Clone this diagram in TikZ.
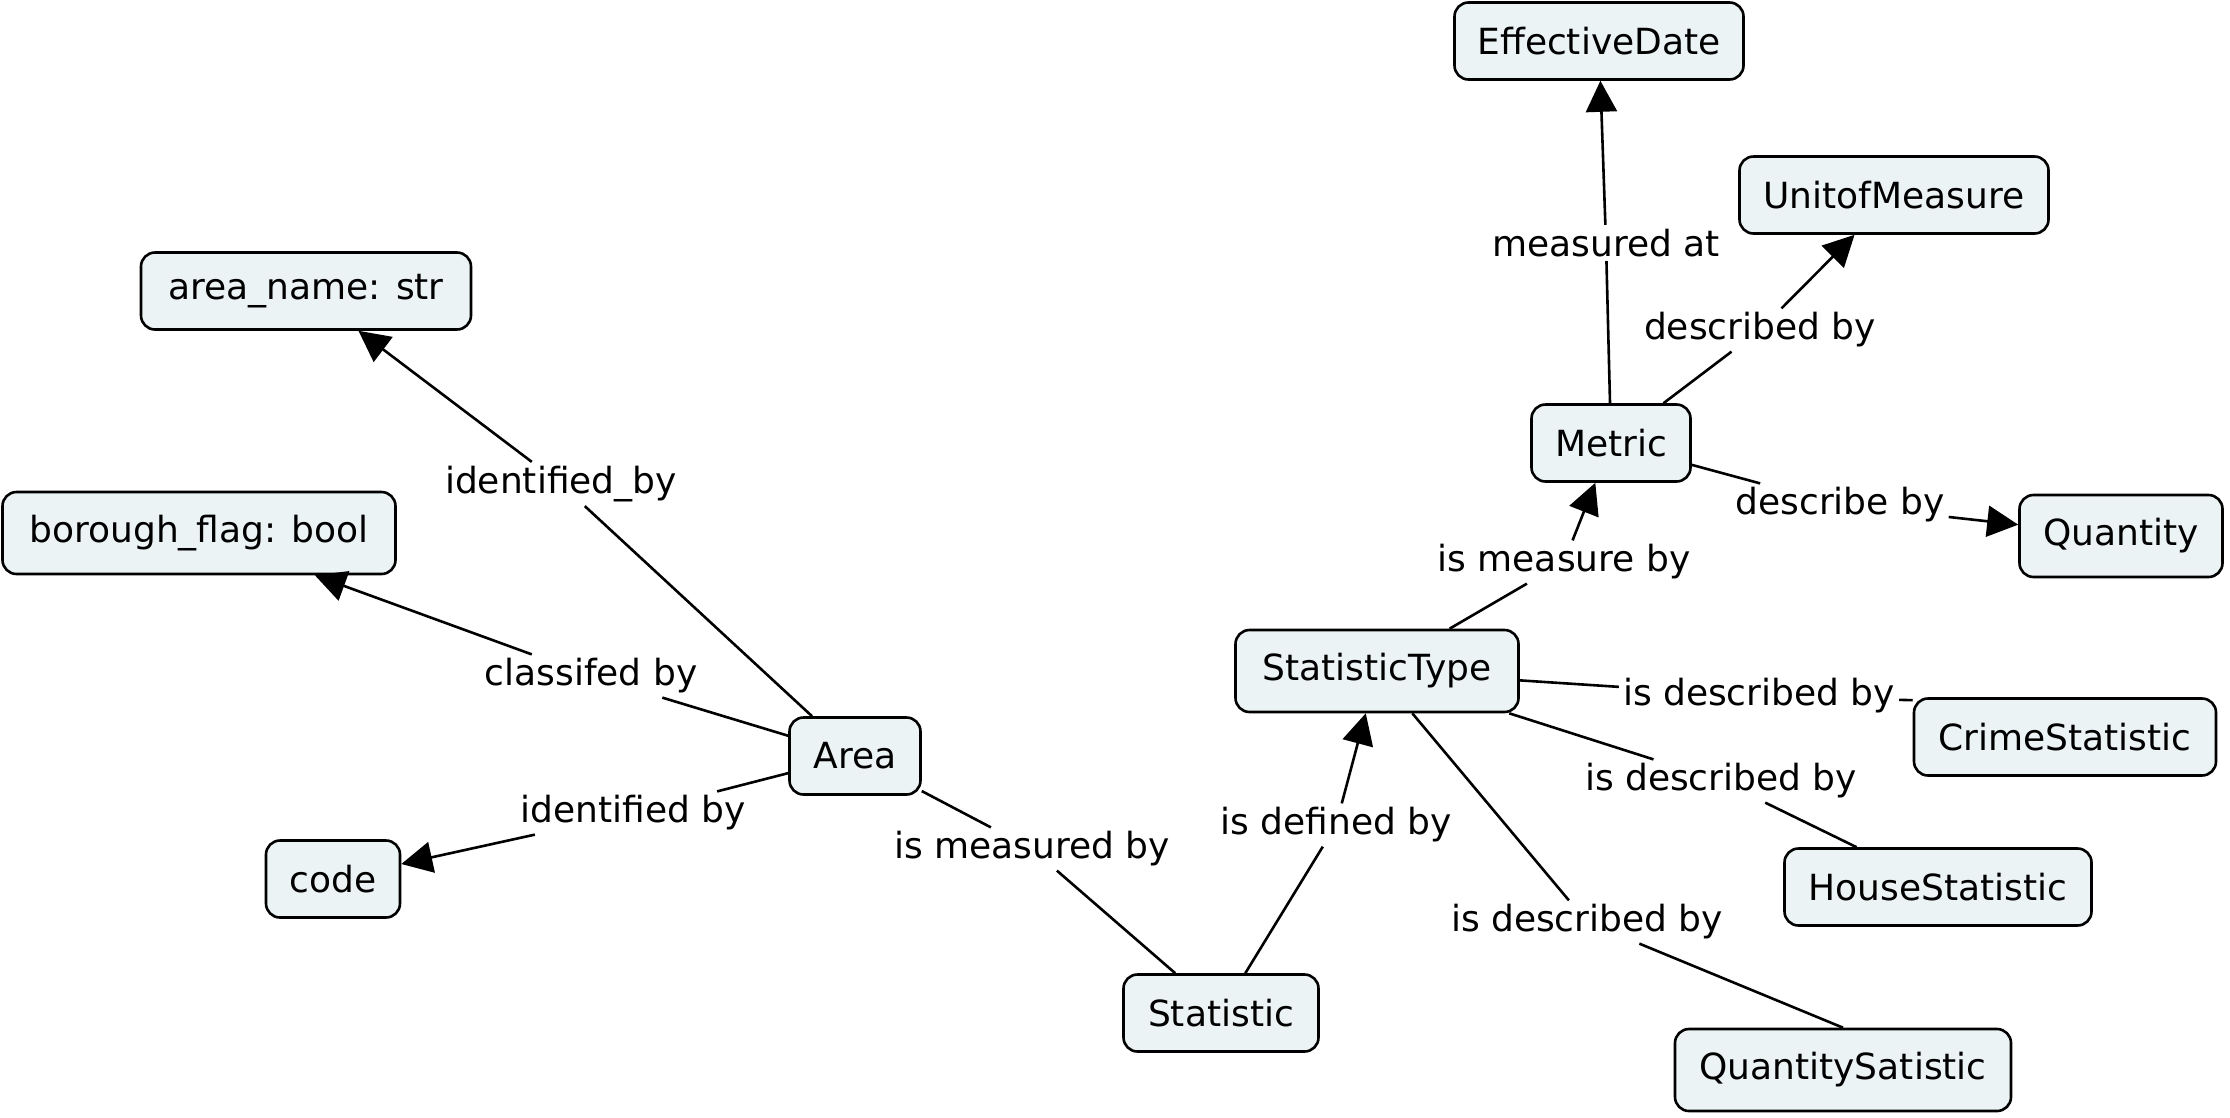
\documentclass[tikz,border=0pt]{standalone}
\usepackage{fontspec}
\setmainfont{DejaVu Sans}
\usetikzlibrary{arrows.meta}
\definecolor{cfill}{RGB}{236,243,245}
\begin{document}
\begin{tikzpicture}[x=1pt,y=-1pt,
  concept/.style={draw=black, line width=2.6pt, fill=cfill, rounded corners=14pt,
    minimum height=77pt, inner xsep=6pt, font=\fontsize{36}{42}\selectfont},
  tall/.style={minimum height=82pt},
  lbl/.style={inner xsep=4pt, inner ysep=4pt, font=\fontsize{36}{42}\selectfont},
  link/.style={line width=2.6pt},
  arr/.style={line width=2.6pt, -{Triangle[length=31pt,width=31pt]}}
]
\useasboundingbox[fill=white] (0,0) rectangle (2230,1117);

% concepts
\node[concept, minimum width=289pt] (eff) at (1599,41) {EffectiveDate};
\node[concept, minimum width=309pt] (unit) at (1894,195) {UnitofMeasure};
\node[concept, minimum width=330pt] (aname) at (306,291) {area\_name: str};
\node[concept, minimum width=159pt] (metric) at (1611,443) {Metric};
\node[concept, tall, minimum width=393pt] (borough) at (199,533) {borough\_flag: bool};
\node[concept, tall, minimum width=203pt] (quantity) at (2121,536) {Quantity};
\node[concept, tall, minimum width=283pt] (stype) at (1377,671) {StatisticType};
\node[concept, minimum width=302pt] (crime) at (2065,737) {CrimeStatistic};
\node[concept, minimum width=131pt] (area) at (855,756) {Area};
\node[concept, minimum width=134pt] (code) at (333,879) {code};
\node[concept, minimum width=307pt] (house) at (1938,887) {HouseStatistic};
\node[concept, minimum width=195pt] (stat) at (1221,1013) {Statistic};
\node[concept, tall, minimum width=336pt] (qstat) at (1843,1070) {QuantitySatistic};

% linking phrases
\node[lbl] (l1) at (561,484) {identified\_by};
\node[lbl] (l2) at (591,676) {classifed by};
\node[lbl] (l3) at (633,813) {identified by};
\node[lbl] (l4) at (1032,849) {is measured by};
\node[lbl] (l5) at (1336,825) {is defined by};
\node[lbl] (l6) at (1564,562) {is measure by};
\node[lbl] (l7) at (1606,243) {measured at};
\node[lbl] (l8) at (1760,330) {described by};
\node[lbl] (l9) at (1840,505) {describe by};
\node[lbl] (l10) at (1759,696) {is described by};
\node[lbl] (l11) at (1721,781) {is described by};
\node[lbl] (l12) at (1587,922) {is described by};

% connectors
\draw[link] (area) -- (l1); \draw[arr] (l1) -- (aname);
\draw[link] (area) -- (l2); \draw[arr] (l2) -- (borough);
\draw[link] (area) -- (l3); \draw[arr] (l3) -- (code);
\draw[link] (area) -- (l4); \draw[link] (l4) -- (stat);
\draw[link] (stat) -- (l5); \draw[arr] (l5) -- (stype);
\draw[link] (stype) -- (l6); \draw[arr] (l6) -- (metric);
\draw[link] (metric) -- (l7); \draw[arr] (l7) -- (eff);
\draw[link] (metric) -- (l8); \draw[arr] (l8) -- (unit);
\draw[link] (metric) -- (l9); \draw[arr] (l9) -- (quantity);
\draw[link] (stype) -- (l10); \draw[link] (l10) -- ([yshift=-3pt]crime.north west);
\draw[link] (stype) -- (l11); \draw[link] (l11) -- (house);
\draw[link] (stype) -- (l12); \draw[link] (l12) -- (qstat.north);
\end{tikzpicture}
\end{document}
